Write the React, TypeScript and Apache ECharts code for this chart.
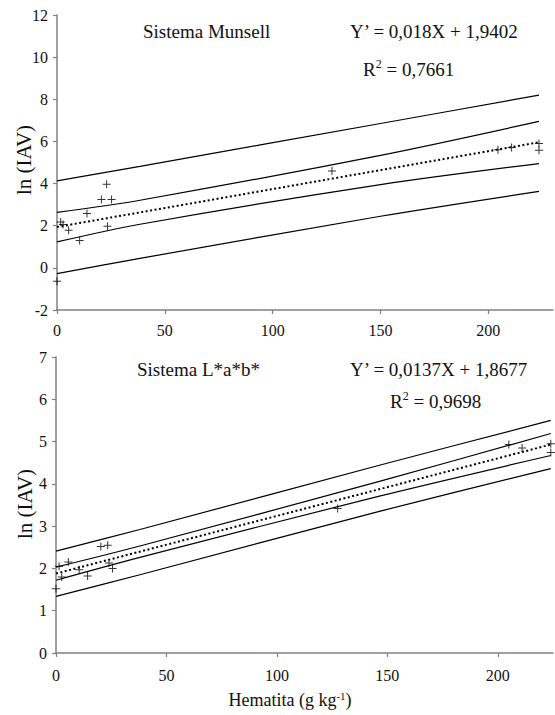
import React, { useEffect, useRef } from "react";
import * as echarts from "echarts";

// ---- data ----
const xTicks = [0, 50, 100, 150, 200];

// Sistema Munsell (top)
const hemTop = [0, 1.7, 2.8, 5.4, 10.5, 13.9, 20.6, 23.0, 23.4, 25.3, 127.5, 204.5, 210.8, 223.5, 223.5];
const lnTop = [-0.63, 2.18, 2.06, 1.79, 1.3, 2.58, 3.24, 3.97, 1.98, 3.24, 4.6, 5.61, 5.71, 5.9, 5.58];
const bandXTop = [0, 38.5, 150, 223.5];
const upperOuterTop = [4.13, 4.82, 6.85, 8.2];
const upperInnerTop = [2.63, 3.21, 5.34, 6.95];
const lowerInnerTop = [1.23, 2.07, 3.95, 4.95];
const lowerOuterTop = [-0.27, 0.45, 2.45, 3.63];
const fitXTop = [0, 223.5];
const fitYTop = [1.94, 5.96];

// Sistema L*a*b* (bottom)
const hemBot = [0, 1.4, 2.6, 5.6, 10.5, 14.3, 20.3, 23.4, 24, 25.6, 127.5, 205, 211, 224, 224];
const lnBot = [1.52, 2.05, 1.8, 2.15, 1.97, 1.82, 2.52, 2.55, 2.13, 2.0, 3.42, 4.93, 4.85, 4.95, 4.74];
const bandXBot = [0, 38, 146.4, 224];
const upperOuterBot = [2.41, 2.92, 4.44, 5.5];
const upperInnerBot = [2.03, 2.53, 4.06, 5.19];
const lowerInnerBot = [1.72, 2.26, 3.71, 4.67];
const lowerOuterBot = [1.34, 1.85, 3.35, 4.36];
const fitXBot = [0, 224];
const fitYBot = [1.88, 4.93];

const FONT = "Liberation Serif";
const AXIS_GRAY = "#808080";
const PLUS = "path://M7,0H9V7H16V9H9V16H7V9H0V7H7Z";

const zip = (xs: number[], ys: number[]) => xs.map((x, i) => [x, ys[i]]);

function bandLine(xs: number[], ys: number[], idx: number, dotted = false) {
  return {
    type: "line",
    xAxisIndex: idx,
    yAxisIndex: idx,
    data: zip(xs, ys),
    showSymbol: false,
    symbol: "none",
    smooth: dotted ? false : 0.3,
    silent: true,
    lineStyle: dotted
      ? { color: "#000", width: 2, type: [2, 2.5] }
      : { color: "#000", width: 1.2 },
    z: 2,
  };
}

const labelStyle = { color: "#111", fontFamily: FONT, fontSize: 16 };

function xAxisDef(idx: number, max: number, margin: number) {
  return {
    type: "value",
    gridIndex: idx,
    min: 0,
    max,
    axisLine: { onZero: false, lineStyle: { color: AXIS_GRAY, width: 1.5 } },
    axisTick: { show: true, length: 4, customValues: xTicks, lineStyle: { color: AXIS_GRAY, width: 1.2 } },
    axisLabel: { customValues: xTicks, margin, ...labelStyle },
    splitLine: { show: false },
  };
}

function yAxisDef(idx: number, min: number, max: number, interval: number) {
  return {
    type: "value",
    gridIndex: idx,
    min,
    max,
    interval,
    axisLine: { show: true, onZero: false, lineStyle: { color: AXIS_GRAY, width: 1.5 } },
    axisTick: { show: true, length: 4, lineStyle: { color: AXIS_GRAY, width: 1.2 } },
    axisLabel: { margin: 9, ...labelStyle },
    splitLine: { show: false },
  };
}

const textStyleBase = { fontFamily: FONT, fontSize: 19, fill: "#111" };
const rich = {
  sup: { fontFamily: FONT, fontSize: 12, verticalAlign: "top", fill: "#111", color: "#111" },
};

export default function App() {
  const ref = useRef<HTMLDivElement>(null);

  useEffect(() => {
    if (!ref.current) return;
    const chart = echarts.init(ref.current, undefined, { renderer: "svg" });

    const option = {
      animation: false,
      backgroundColor: "#fff",
      textStyle: { fontFamily: FONT },
      grid: [
        { left: 57, top: 15, width: 496, height: 295 },
        { left: 56, top: 357, width: 497, height: 296 },
      ],
      xAxis: [xAxisDef(0, 230, 12), xAxisDef(1, 225, 14)],
      yAxis: [yAxisDef(0, -2, 12, 2), yAxisDef(1, 0, 7, 1)],
      series: [
        bandLine(bandXTop, upperOuterTop, 0),
        bandLine(bandXTop, upperInnerTop, 0),
        bandLine(bandXTop, lowerInnerTop, 0),
        bandLine(bandXTop, lowerOuterTop, 0),
        bandLine(fitXTop, fitYTop, 0, true),
        {
          type: "scatter",
          xAxisIndex: 0,
          yAxisIndex: 0,
          data: zip(hemTop, lnTop),
          symbol: PLUS,
          symbolSize: 8,
          itemStyle: { color: "#000" },
          z: 3,
        },
        bandLine(bandXBot, upperOuterBot, 1),
        bandLine(bandXBot, upperInnerBot, 1),
        bandLine(bandXBot, lowerInnerBot, 1),
        bandLine(bandXBot, lowerOuterBot, 1),
        bandLine(fitXBot, fitYBot, 1, true),
        {
          type: "scatter",
          xAxisIndex: 1,
          yAxisIndex: 1,
          data: zip(hemBot, lnBot),
          symbol: PLUS,
          symbolSize: 8,
          itemStyle: { color: "#000" },
          z: 3,
        },
      ],
      graphic: [
        { type: "text", left: 143, top: 22, style: { ...textStyleBase, text: "Sistema Munsell" } },
        { type: "text", left: 350, top: 22, style: { ...textStyleBase, text: "Y’ = 0,018X + 1,9402" } },
        {
          type: "text",
          left: 363,
          top: 58,
          style: { ...textStyleBase, text: "R{sup|2} = 0,7661", rich, lineHeight: 22 },
        },
        { type: "text", left: 137, top: 360, style: { ...textStyleBase, text: "Sistema L*a*b*" } },
        { type: "text", left: 350, top: 360, style: { ...textStyleBase, text: "Y’ = 0,0137X + 1,8677" } },
        {
          type: "text",
          left: 390,
          top: 390,
          style: { ...textStyleBase, text: "R{sup|2} = 0,9698", rich, lineHeight: 22 },
        },
        {
          type: "text",
          x: 24,
          y: 160,
          rotation: Math.PI / 2,
          style: { ...textStyleBase, fontSize: 21, text: "ln (IAV)", align: "center", verticalAlign: "middle" },
        },
        {
          type: "text",
          x: 25,
          y: 504,
          rotation: Math.PI / 2,
          style: { ...textStyleBase, fontSize: 21, text: "ln (IAV)", align: "center", verticalAlign: "middle" },
        },
        {
          type: "text",
          x: 290,
          y: 700,
          style: {
            ...textStyleBase,
            fontSize: 18,
            text: "Hematita (g kg{sup|-1})",
            rich: { sup: { fontFamily: FONT, fontSize: 11, verticalAlign: "top", fill: "#111" } },
            lineHeight: 20,
            align: "center",
            verticalAlign: "middle",
          },
        },
      ],
    };

    chart.setOption(option as any);
    return () => chart.dispose();
  }, []);

  return (
    <div
      ref={ref}
      style={{ position: "absolute", left: 0, top: 0, width: 555, height: 715 }}
    />
  );
}
